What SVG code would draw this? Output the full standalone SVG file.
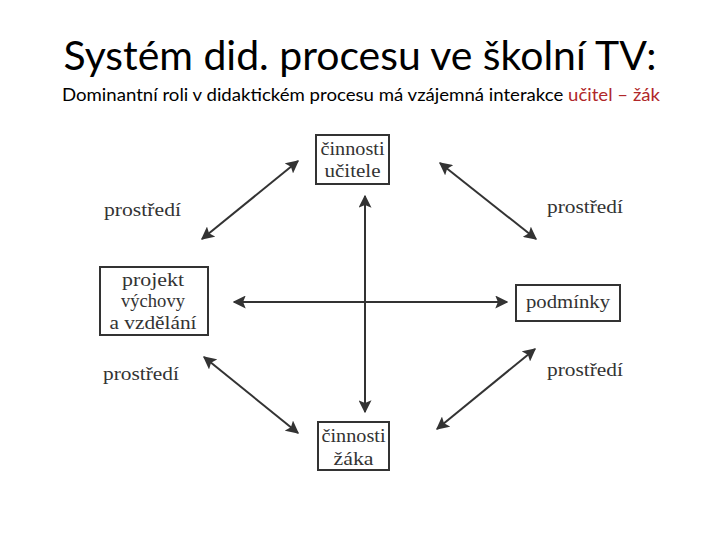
<svg xmlns="http://www.w3.org/2000/svg" width="720" height="540" viewBox="0 0 720 540">
<style>
.title{font-family:Lato,"Open Sans","Liberation Sans",sans-serif;fill:#000}
.lbl{font-family:"Liberation Serif","DejaVu Serif",serif;font-size:19px;fill:#333}
.box{fill:#fff;stroke:#333;stroke-width:2}
.con{stroke:#333;stroke-width:2;fill:none;marker-start:url(#ah);marker-end:url(#ah)}
</style>
<defs>
<marker id="ah" viewBox="0 0 10 10" refX="9" refY="5" markerWidth="6.5" markerHeight="6.5" orient="auto-start-reverse" markerUnits="strokeWidth">
<path d="M0,0 L10,5 L0,10 L2,5 Z" fill="#333"/>
</marker>
</defs>
<rect width="720" height="540" fill="#fff"/>
<text class="title" x="360" y="70" font-size="40" text-anchor="middle" textLength="593" lengthAdjust="spacingAndGlyphs">Systém did. procesu ve školní TV:</text>
<text class="title" x="62" y="101" font-size="18" textLength="598" lengthAdjust="spacingAndGlyphs">Dominantní roli v didaktickém procesu má vzájemná interakce <tspan fill="#b0272a">učitel – žák</tspan></text>
<g id="connectors">
<line class="con" x1="365" y1="196" x2="365" y2="412"/>
<line class="con" x1="234" y1="302" x2="507" y2="302"/>
<line class="con" x1="298" y1="161" x2="202" y2="239"/>
<line class="con" x1="440" y1="163" x2="536" y2="239"/>
<line class="con" x1="204" y1="357" x2="298" y2="433"/>
<line class="con" x1="535" y1="349" x2="437" y2="429"/>
</g>
<g id="ucitel">
<rect class="box" x="316" y="135" width="73" height="49"/>
<text class="lbl" x="352.5" y="155" text-anchor="middle" textLength="64" lengthAdjust="spacingAndGlyphs">činnosti</text>
<text class="lbl" x="352.5" y="177" text-anchor="middle" textLength="56" lengthAdjust="spacingAndGlyphs">učitele</text>
</g>
<g id="projekt">
<rect class="box" x="100" y="267" width="108" height="68"/>
<text class="lbl" x="153" y="286" text-anchor="middle" textLength="62" lengthAdjust="spacingAndGlyphs">projekt</text>
<text class="lbl" x="153" y="307" text-anchor="middle" textLength="64" lengthAdjust="spacingAndGlyphs">výchovy</text>
<text class="lbl" x="153" y="329" text-anchor="middle" textLength="87" lengthAdjust="spacingAndGlyphs">a vzdělání</text>
</g>
<g id="podminky">
<rect class="box" x="516" y="285" width="104" height="36"/>
<text class="lbl" x="568" y="308" text-anchor="middle" textLength="84" lengthAdjust="spacingAndGlyphs">podmínky</text>
</g>
<g id="zak">
<rect class="box" x="318" y="422" width="71" height="48"/>
<text class="lbl" x="353.5" y="442" text-anchor="middle" textLength="64" lengthAdjust="spacingAndGlyphs">činnosti</text>
<text class="lbl" x="353.5" y="465" text-anchor="middle" textLength="40" lengthAdjust="spacingAndGlyphs">žáka</text>
</g>
<g id="prostredi-tl"><text class="lbl" x="104" y="216" textLength="77" lengthAdjust="spacingAndGlyphs">prostředí</text></g>
<g id="prostredi-tr"><text class="lbl" x="547" y="213" textLength="76" lengthAdjust="spacingAndGlyphs">prostředí</text></g>
<g id="prostredi-bl"><text class="lbl" x="103" y="380" textLength="76" lengthAdjust="spacingAndGlyphs">prostředí</text></g>
<g id="prostredi-br"><text class="lbl" x="547" y="376" textLength="76" lengthAdjust="spacingAndGlyphs">prostředí</text></g>
</svg>
